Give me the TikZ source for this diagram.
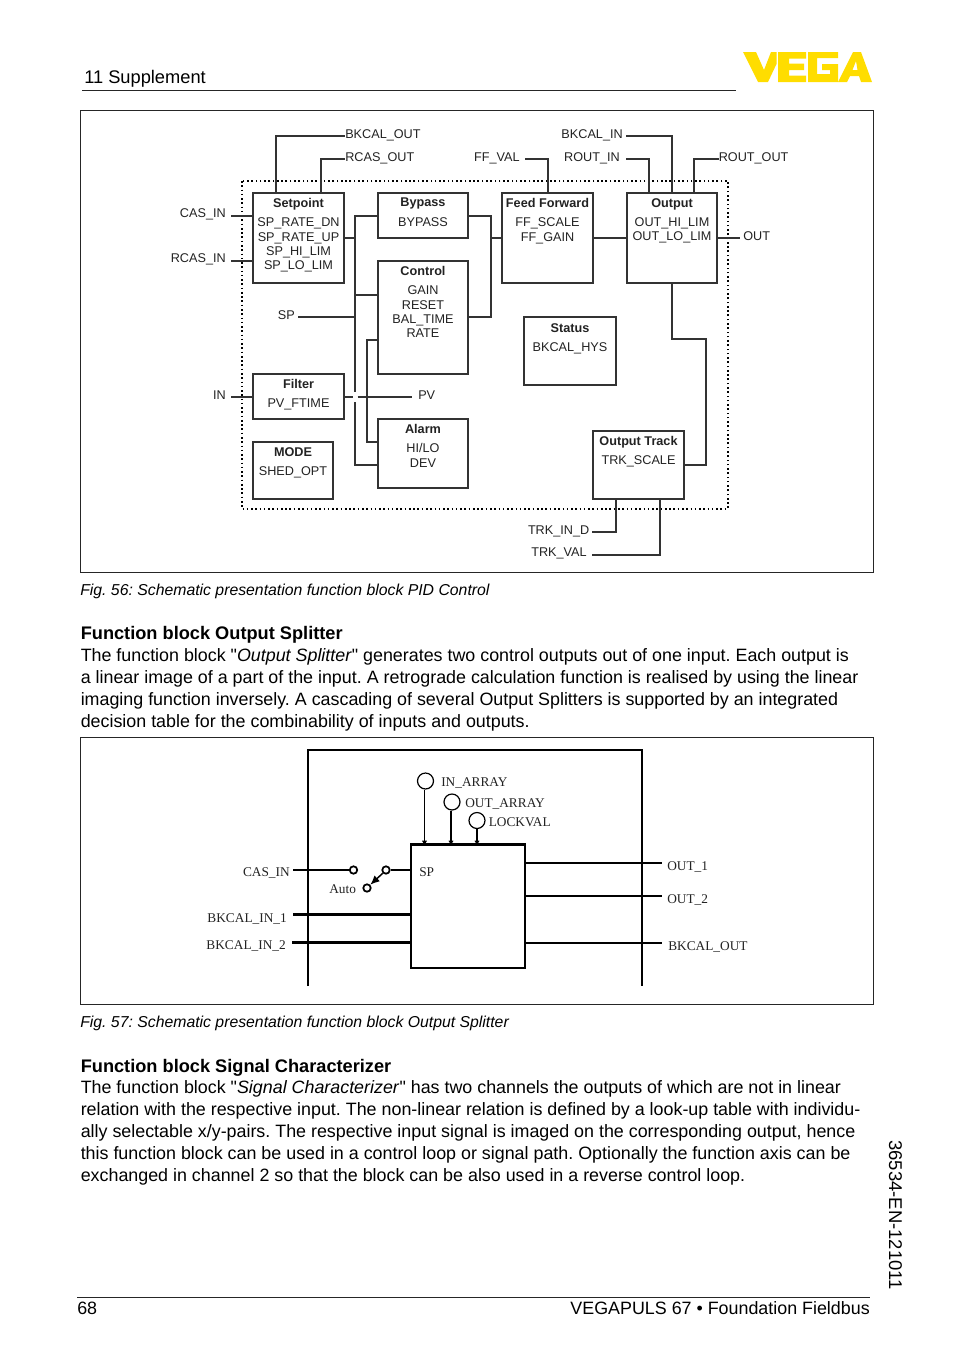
\documentclass[tikz,border=0pt]{standalone}
\usepackage{fontspec}
\setmainfont[Ligatures=TeXOff]{Liberation Sans}
\newfontfamily\serifdiag{Liberation Serif}
\usetikzlibrary{%
	fit,%
	arrows.meta
}

\definecolor{vegayellow}{HTML}{FFDD00}
\definecolor{wirecol}{HTML}{333333}
\definecolor{textcol}{HTML}{222222}

\tikzset{
	fblock/.style={draw=wirecol, line width=1pt, fill=none, inner sep=0pt},
	wire/.style={draw=wirecol, line width=1pt},
	heavywire/.style={draw=black, line width=1.7pt},
	thinwire/.style={draw=black, line width=0.8pt},
	pageframe/.style={draw=black!85, line width=0.6pt},
	fbtext/.style={text=textcol, font=\fontsize{9.5}{10.7}\selectfont, align=center, inner sep=0pt, anchor=north},
	lbl/.style={text=textcol, font=\fontsize{9.5}{10.7}\selectfont, inner sep=0pt, yshift=-1.1pt},
	slbl/.style={text=textcol, font=\fontsize{10}{12}\selectfont\serifdiag, inner sep=0pt, yshift=-0.8pt},
	body/.style={text=black, font=\fontsize{13.4}{16.5}\selectfont\frenchspacing, align=left, anchor=base west, inner sep=0pt},
	head/.style={body, font=\fontsize{13.65}{16.5}\selectfont\bfseries},
	figcap/.style={text=black, font=\fontsize{11.85}{14}\selectfont\itshape\frenchspacing, anchor=base west, inner sep=0pt},
	pincirc/.style={draw=black, line width=0.9pt, circle, inner sep=0pt, minimum size=12pt},
	contact/.style={draw=black, line width=1.3pt, circle, inner sep=0pt, minimum size=5.6pt}
}

\begin{document}
\begin{tikzpicture}[x=0.75pt, y=-0.75pt]
	\useasboundingbox (0,0) rectangle (954,1354);

	% page head and foot
	\node[body, font=\fontsize{13.7}{16.5}\selectfont] (chapter) at (84,83) {11 Supplement};
	\draw[pageframe] (82,90.5) -- (736,90.5);
	\fill[vegayellow] (743,52) -- (756,52) -- (764,70) -- (771,52) -- (776.5,52) -- (776.5,64) -- (768,82) -- (758,82) -- cycle;
	\fill[vegayellow] (778,52) -- (806,52) -- (806,58.5) -- (789,58.5) -- (789,63.5) -- (804,63.5) -- (804,70) -- (789,70) -- (789,75.5) -- (806,75.5) -- (806,82) -- (778,82) -- cycle;
	\fill[vegayellow] (808,52) -- (838,52) -- (838,58) -- (817,58) -- (817,74) -- (830,74) -- (830,70) -- (822,70) -- (822,64) -- (838,64) -- (838,82) -- (808,82) -- cycle;
	\fill[vegayellow, even odd rule] (838,82) -- (853,52) -- (861,52) -- (872,82) -- (861,82) -- (859,76) -- (850,76) -- (847,82) -- cycle (856,61) -- (852.5,70) -- (857.5,70) -- cycle;
	\draw[pageframe] (77,1297) -- (870,1297);
	\node[body] (pageno) at (77,1314) {68};
	\node[body, anchor=base east] (product) at (870,1314) {VEGAPULS 67 • Foundation Fieldbus};
	\node[body, anchor=base west, rotate=-90, font=\fontsize{13.85}{16.5}\selectfont] (docno) at (889,1140) {36534-EN-121011};

	% first figure
	\draw[pageframe] (80.5,110.5) rectangle (873.5,572.5);
	\draw[draw=black, line width=1.2pt, dotted] (242,181) rectangle (728,509);

	\node[fblock, fit={(253,193) (344,283)}] (setpoint) {};
	\node[fblock, fit={(378,193) (468,238)}] (bypass) {};
	\node[fblock, fit={(378,261) (468,374)}] (control) {};
	\node[fblock, fit={(502,193) (593,283)}] (feedfwd) {};
	\node[fblock, fit={(627,193) (717,283)}] (output) {};
	\node[fblock, fit={(524,317) (616,385)}] (status) {};
	\node[fblock, fit={(593,431) (684,499)}] (outtrack) {};
	\node[fblock, fit={(253,374) (344,419)}] (filter) {};
	\node[fblock, fit={(253,442) (333,499)}] (mode) {};
	\node[fblock, fit={(378,419) (468,488)}] (alarm) {};

	\node[fbtext] (setpointtxt) at (298.5,198) {\textbf{Setpoint}\\[3.8pt]SP\_RATE\_DN\\SP\_RATE\_UP\\SP\_HI\_LIM\\SP\_LO\_LIM};
	\node[fbtext] (bypasstxt) at (423,198) {\textbf{Bypass}\\[3.8pt]BYPASS};
	\node[fbtext] (controltxt) at (423,266) {\textbf{Control}\\[3.8pt]GAIN\\RESET\\BAL\_TIME\\RATE};
	\node[fbtext] (feedfwdtxt) at (547.5,198) {\textbf{Feed Forward}\\[3.8pt]FF\_SCALE\\FF\_GAIN};
	\node[fbtext] (outputtxt) at (672,198) {\textbf{Output}\\[3.8pt]OUT\_HI\_LIM\\OUT\_LO\_LIM};
	\node[fbtext] (statustxt) at (570,323) {\textbf{Status}\\[3.8pt]BKCAL\_HYS};
	\node[fbtext] (outtracktxt) at (638.5,436) {\textbf{Output Track}\\[3.8pt]TRK\_SCALE};
	\node[fbtext] (filtertxt) at (298.5,379) {\textbf{Filter}\\[3.8pt]PV\_FTIME};
	\node[fbtext] (modetxt) at (293,447) {\textbf{MODE}\\[3.8pt]SHED\_OPT};
	\node[fbtext] (alarmtxt) at (423,424) {\textbf{Alarm}\\[3.8pt]HI/LO\\DEV};

	\node[lbl, anchor=west] (bkcalout) at (345,133.5) {BKCAL\_OUT};
	\node[lbl, anchor=west] (rcasout) at (345,156.5) {RCAS\_OUT};
	\node[lbl, anchor=east] (ffval) at (520,156.5) {FF\_VAL};
	\node[lbl, anchor=east] (bkcalin) at (623,133.5) {BKCAL\_IN};
	\node[lbl, anchor=east] (routin) at (620,156.5) {ROUT\_IN};
	\node[lbl, anchor=west] (routout) at (718.5,156.5) {ROUT\_OUT};
	\node[lbl, anchor=east] (casin) at (226,213) {CAS\_IN};
	\node[lbl, anchor=east] (rcasin) at (226,258) {RCAS\_IN};
	\node[lbl, anchor=east] (spin) at (295,314) {SP};
	\node[lbl, anchor=east] (inpv) at (226,393.5) {IN};
	\node[lbl, anchor=west] (pvout) at (418,393.5) {PV};
	\node[lbl, anchor=west] (outlbl) at (743,235) {OUT};
	\node[lbl, anchor=east] (trkind) at (589.5,529.5) {TRK\_IN\_D};
	\node[lbl, anchor=east] (trkval) at (587,552) {TRK\_VAL};

	\coordinate (bkcaloutbend) at (276,136);
	\coordinate (rcasoutbend) at (321,159);
	\coordinate (ffvalbend) at (548,159);
	\coordinate (bkcalinbend) at (672,136);
	\coordinate (routinbend) at (649,159);
	\coordinate (routoutbend) at (694,159);
	\coordinate (setbus) at (355,238);
	\coordinate (ctlbus) at (367,340);
	\coordinate (ffbus) at (491,238);
	\coordinate (crossa) at (355,392);
	\coordinate (crossb) at (355,402);
	\coordinate (trkbenda) at (616,532);
	\coordinate (trkbendb) at (660,555);
	\coordinate (outbenda) at (672,339);
	\coordinate (outbendb) at (706,465);

	\draw[wire] (setpoint.north -| bkcaloutbend) -- (bkcaloutbend) -- (345,136);
	\draw[wire] (setpoint.north -| rcasoutbend) -- (rcasoutbend) -- (345,159);
	\draw[wire] (feedfwd.north -| ffvalbend) -- (ffvalbend) -- (525,159);
	\draw[wire] (output.north -| bkcalinbend) -- (bkcalinbend) -- (626,136);
	\draw[wire] (output.north -| routinbend) -- (routinbend) -- (626,159);
	\draw[wire] (output.north -| routoutbend) -- (routoutbend) -- (718.5,159);

	\draw[wire] (231,216) -- (setpoint.west |- 0,216);
	\draw[wire] (231,261) -- (setpoint.west |- 0,261);
	\draw[wire] (231,397) -- (filter.west |- 0,397);
	\draw[wire] (298,317) -- (355,317);
	\draw[wire] (output.east |- 0,238) -- (740,238);

	\draw[wire] (setpoint.east |- setbus) -- (setbus);
	\draw[wire] (bypass.west |- 0,216) -- (355,216) -- (crossa);
	\draw[wire] (355,295) -- (control.west |- 0,295);
	\draw[wire] (crossb) -- (355,465) -- (alarm.west |- 0,465);
	\draw[wire] (control.west |- ctlbus) -- (ctlbus) -- (367,442) -- (alarm.west |- 0,442);
	\draw[wire] (filter.east |- 0,397) -- (352.5,397);
	\draw[wire] (357.5,397) -- (412,397);

	\draw[wire] (bypass.east |- 0,216) -- (491,216) -- (491,317) -- (control.east |- 0,317);
	\draw[wire] (ffbus) -- (feedfwd.west |- ffbus);
	\draw[wire] (feedfwd.east |- ffbus) -- (output.west |- ffbus);

	\draw[wire] (output.south -| outbenda) -- (outbenda) -- (outbendb |- outbenda) -- (outbendb) -- (outtrack.east |- outbendb);
	\draw[wire] (outtrack.south -| trkbenda) -- (trkbenda) -- (592,532);
	\draw[wire] (outtrack.south -| trkbendb) -- (trkbendb) -- (592,555);

	\node[figcap] (capa) at (80,595) {Fig. 56: Schematic presentation function block PID Control};

	% text between the figures
	\node[head] (heada) at (80.5,639) {Function block Output Splitter};
	\node[body, anchor=north west] (parta) at (80.5,648) {The function block "\textit{Output Splitter}" generates two control outputs out of one input. Each output is\\
		a linear image of a part of the input. A retrograde calculation function is realised by using the linear\\
		imaging function inversely. A cascading of several Output Splitters is supported by an integrated\\
		decision table for the combinability of inputs and outputs.};

	% second figure
	\draw[pageframe] (80.5,737.5) rectangle (873.5,1004.5);
	\draw[thinwire] (308,986) -- (308,750) -- (642,750) -- (642,986);

	\node[draw=black, line width=1.1pt, inner sep=0pt, fit={(411,845) (525,968)}] (splitter) {};
	\draw[heavywire] (splitter.north west) -- (splitter.north east);

	\node[pincirc] (inarray) at (425.5,781) {};
	\node[pincirc] (outarray) at (452,802) {};
	\node[pincirc] (lockval) at (477,820.5) {};
	\node[slbl, anchor=west] (inarraylbl) at (441,782) {IN\_ARRAY};
	\node[slbl, anchor=west] (outarraylbl) at (465,802.5) {OUT\_ARRAY};
	\node[slbl, anchor=west] (lockvallbl) at (488.5,821.5) {LOCKVAL};
	\foreach \pinname/\pinx in {inarray/424.5, outarray/451, lockval/477}
		\draw[thinwire, -{Latex[length=4pt,width=4pt]}] (\pinname.south -| \pinx,0) -- (\pinx,846);

	\node[slbl, anchor=east] (casinlbl) at (290,871.5) {CAS\_IN};
	\node[slbl, anchor=east] (bkcalina) at (287,918) {BKCAL\_IN\_1};
	\node[slbl, anchor=east] (bkcalinb) at (286,945) {BKCAL\_IN\_2};
	\node[slbl, anchor=west] (autolbl) at (329,888) {Auto};
	\node[slbl, anchor=west] (splc) at (419,871.5) {SP};
	\node[slbl, anchor=west] (outa) at (667,866) {OUT\_1};
	\node[slbl, anchor=west] (outb) at (667,899) {OUT\_2};
	\node[slbl, anchor=west] (bkcaloutb) at (668,946) {BKCAL\_OUT};

	\node[contact] (casc) at (353.5,870) {};
	\node[contact] (swc) at (386,870) {};
	\node[contact] (autoc) at (367,888) {};

	\draw[thinwire] (293,870) -- (casc.west);
	\draw[heavywire, line width=1.4pt] (swc.east) -- (splitter.west |- swc);
	\draw[thinwire, line width=1.1pt, -{Latex[length=7pt,width=6pt]}] (swc.south west) -- (autoc.north east);

	\draw[heavywire] (293,914.5) -- (splitter.west |- 0,914.5);
	\draw[heavywire] (292,942.5) -- (splitter.west |- 0,942.5);
	\draw[heavywire] (splitter.east |- 0,863) -- (662,863);
	\draw[heavywire] (splitter.east |- 0,896) -- (662,896);
	\draw[heavywire, line width=1.3pt] (splitter.east |- 0,943) -- (662,943);

	\node[figcap] (capb) at (80,1027) {Fig. 57: Schematic presentation function block Output Splitter};

	% text below
	\node[head] (headb) at (80.5,1072) {Function block Signal Characterizer};
	\node[body, anchor=north west] (partb) at (80.5,1080) {The function block "\textit{Signal Characterizer}" has two channels the outputs of which are not in linear\\
		relation with the respective input. The non-linear relation is defined by a look-up table with individu-\\
		ally selectable x/y-pairs. The respective input signal is imaged on the corresponding output, hence\\
		this function block can be used in a control loop or signal path. Optionally the function axis can be\\
		exchanged in channel 2 so that the block can be also used in a reverse control loop.};
\end{tikzpicture}
\end{document}
